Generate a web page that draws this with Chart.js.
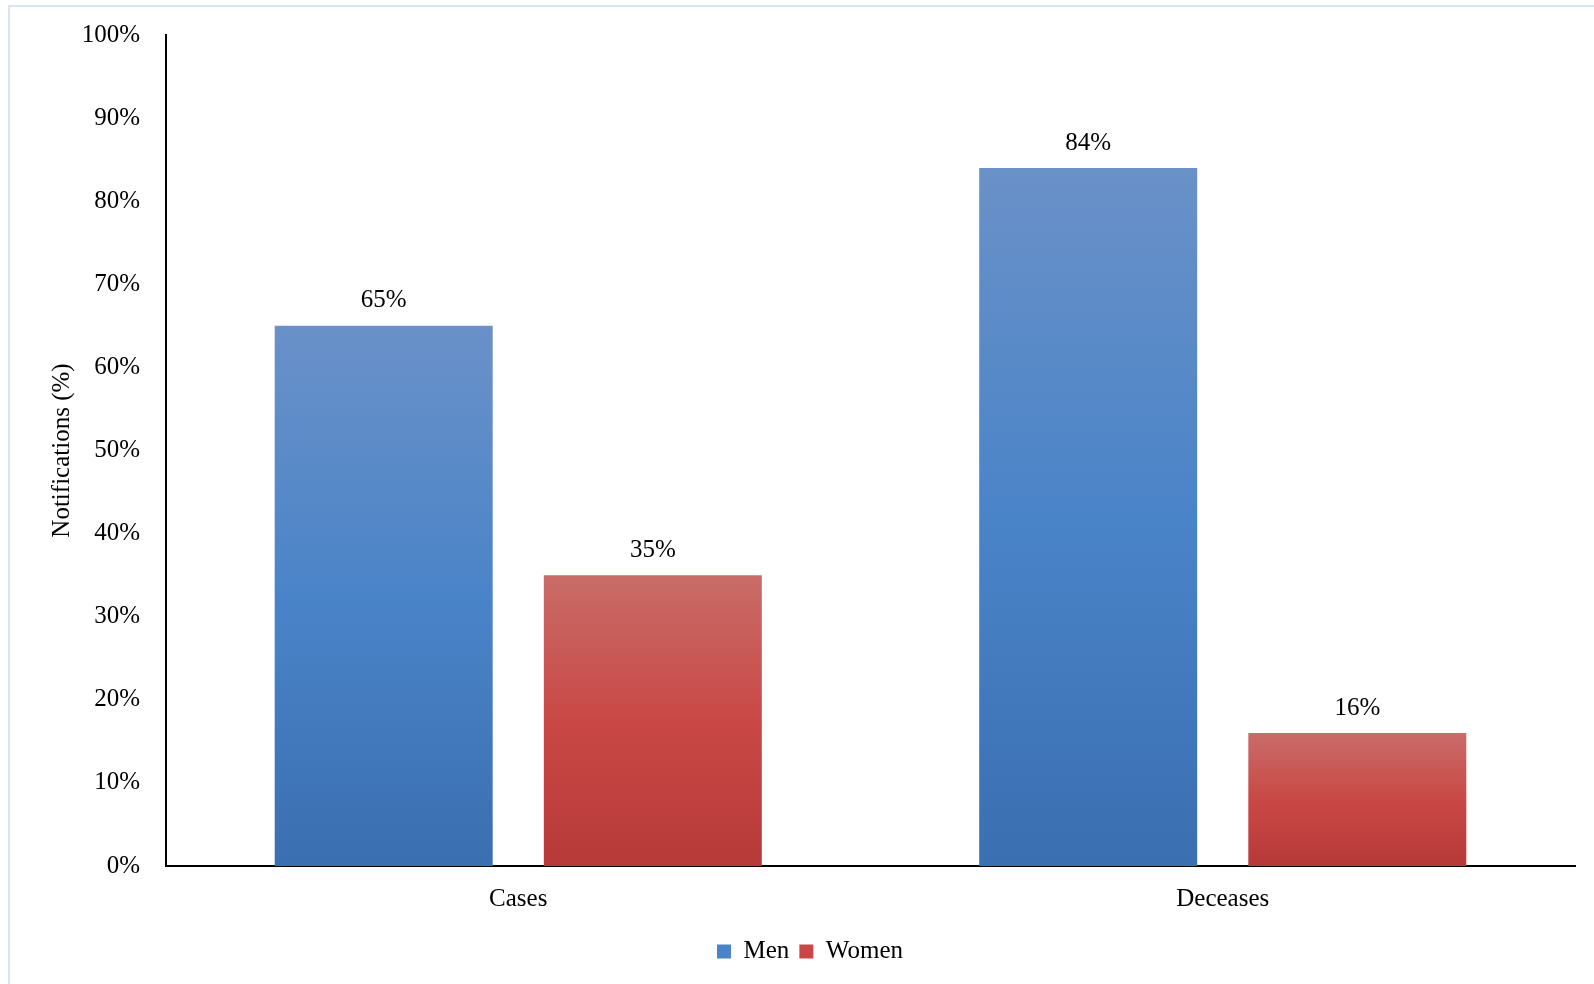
<!DOCTYPE html>
<html>
<head>
<meta charset="utf-8">
<script src="https://cdn.jsdelivr.net/npm/chart.js@4"></script>
<style>
  html, body { margin: 0; padding: 0; background: #fff; }
  canvas { display: block; }
</style>
</head>
<body>
<canvas id="chart" width="1594" height="984"></canvas>
<script>
const categories = ["Cases", "Deceases"];
const menValues = [65, 84];
const womenValues = [35, 16];
const seriesNames = ["Men", "Women"];

const FONT = '"Liberation Serif", "Times New Roman", serif';

const blueStops = ["#6a91c8", "#4a84c8", "#3a6fb1"];
const redStops = ["#c96c68", "#c94846", "#b73a38"];

// Excel-style: each bar gets its own top-to-bottom gradient
const barGradientPlugin = {
  id: "barGradient",
  beforeDatasetsDraw(chart) {
    const ctx = chart.ctx;
    chart.data.datasets.forEach((ds, i) => {
      const stops = ds.gradientStops;
      chart.getDatasetMeta(i).data.forEach((bar) => {
        const g = ctx.createLinearGradient(0, bar.y, 0, bar.base);
        g.addColorStop(0, stops[0]);
        g.addColorStop(0.5, stops[1]);
        g.addColorStop(1, stops[2]);
        // options are shared between bars of a dataset, so copy them first
        bar.options = Object.assign({}, bar.options, { backgroundColor: g });
      });
    });
  }
};

const valueLabelPlugin = {
  id: "valueLabels",
  afterDatasetsDraw(chart) {
    const ctx = chart.ctx;
    ctx.save();
    ctx.font = `25px ${FONT}`;
    ctx.fillStyle = "#000";
    ctx.textAlign = "center";
    ctx.textBaseline = "middle";
    chart.data.datasets.forEach((ds, i) => {
      chart.getDatasetMeta(i).data.forEach((bar, j) => {
        ctx.fillText(ds.data[j] + "%", bar.x, bar.y - 25);
      });
    });
    ctx.restore();
  }
};

const frameBorderPlugin = {
  id: "frameBorder",
  beforeDraw(chart) {
    const ctx = chart.ctx;
    ctx.save();
    ctx.strokeStyle = "#dae5f3";
    ctx.lineWidth = 2;
    ctx.beginPath();
    ctx.moveTo(9, chart.height + 2);
    ctx.lineTo(9, 6);
    ctx.lineTo(chart.width + 2, 6);
    ctx.stroke();
    ctx.restore();
  }
};

new Chart(document.getElementById("chart").getContext("2d"), {
  type: "bar",
  data: {
    labels: categories,
    datasets: [
      {
        label: seriesNames[0],
        data: menValues,
        backgroundColor: blueStops[1],
        gradientStops: blueStops,
        categoryPercentage: 0.764,
        barPercentage: 0.81
      },
      {
        label: seriesNames[1],
        data: womenValues,
        backgroundColor: redStops[1],
        gradientStops: redStops,
        categoryPercentage: 0.764,
        barPercentage: 0.81
      }
    ]
  },
  options: {
    responsive: false,
    animation: false,
    layout: { padding: { left: 45, right: 19, top: 35, bottom: 10 } },
    plugins: {
      tooltip: { enabled: false },
      legend: {
        position: "bottom",
        labels: {
          color: "#000",
          font: { family: FONT, size: 25 },
          boxWidth: 14,
          boxHeight: 14,
          padding: 10
        }
      }
    },
    scales: {
      x: {
        grid: { display: false, drawTicks: false },
        border: { display: true, color: "#000", width: 2 },
        ticks: { color: "#000", font: { family: FONT, size: 25 }, padding: 18 },
        afterFit(scale) { scale.height = 63; }
      },
      y: {
        min: 0,
        max: 100,
        grid: { display: false, drawTicks: false },
        border: { display: true, color: "#000", width: 2 },
        ticks: {
          stepSize: 10,
          color: "#000",
          font: { family: FONT, size: 25 },
          padding: 26,
          callback: (value) => value + "%"
        },
        title: {
          display: true,
          text: "Notifications (%)",
          color: "#000",
          font: { family: FONT, size: 25 },
          padding: { top: 2, bottom: 0 }
        },
        afterFit(scale) {
          scale.width = 121;
          scale.paddingTop = 0;
          scale.paddingBottom = 0;
        }
      }
    }
  },
  plugins: [frameBorderPlugin, barGradientPlugin, valueLabelPlugin]
});
</script>
</body>
</html>
